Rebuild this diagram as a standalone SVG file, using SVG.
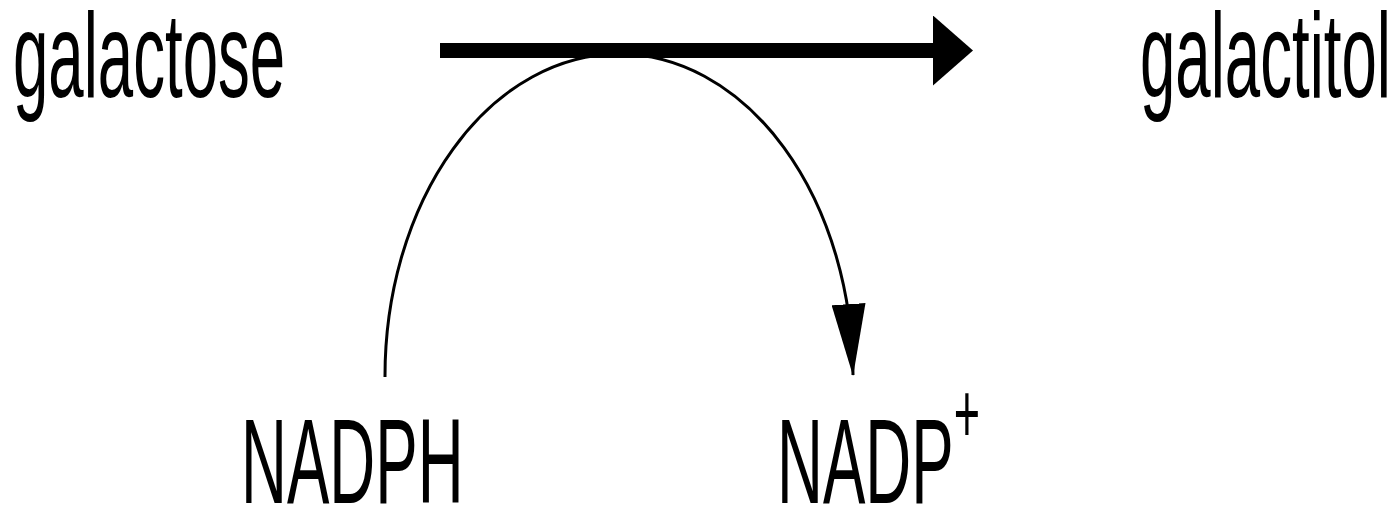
<svg xmlns="http://www.w3.org/2000/svg" width="1392" height="505" viewBox="0 0 1392 505">
  <style>
    .lbl { font-family: "Liberation Sans", Arial, sans-serif; font-size: 120px; fill: #000; }
    .main { stroke: #000; stroke-width: 15; fill: none; }
    .cof { stroke: #000; stroke-width: 3; fill: none; }
  </style>
  <defs>
    <marker id="bigHead" markerUnits="userSpaceOnUse" viewBox="0 0 40 70" refX="2" refY="35" markerWidth="40" markerHeight="70" orient="auto">
      <path d="M0,0 L40,35 L0,70 z" fill="#000"/>
    </marker>
    <marker id="smallHead" markerUnits="userSpaceOnUse" viewBox="0 0 72 34" refX="71" refY="17" markerWidth="72" markerHeight="34" orient="86.4">
      <path d="M0,0 L72,17 L0,34 z" fill="#000"/>
    </marker>
  </defs>
  <rect width="1392" height="505" fill="#fff"/>
  <g id="galactose">
    <text class="lbl" transform="translate(13,97) scale(0.53,1)">galactose</text>
  </g>
  <g id="galactitol">
    <text class="lbl" transform="translate(1140,97) scale(0.53,1)">galactitol</text>
  </g>
  <g id="NADPH">
    <text class="lbl" transform="translate(241,503) scale(0.53,1)">NADPH</text>
  </g>
  <g id="NADP">
    <text class="lbl" transform="translate(777,503) scale(0.53,1)">NADP<tspan font-size="85" dy="-60">+</tspan></text>
  </g>
  <g id="connectors">
    <line class="main" x1="440" y1="50.5" x2="935" y2="50.5" marker-end="url(#bigHead)"/>
    <path class="cof" d="M385,377 A234,322 0 0 1 853,375" marker-end="url(#smallHead)"/>
  </g>
</svg>
